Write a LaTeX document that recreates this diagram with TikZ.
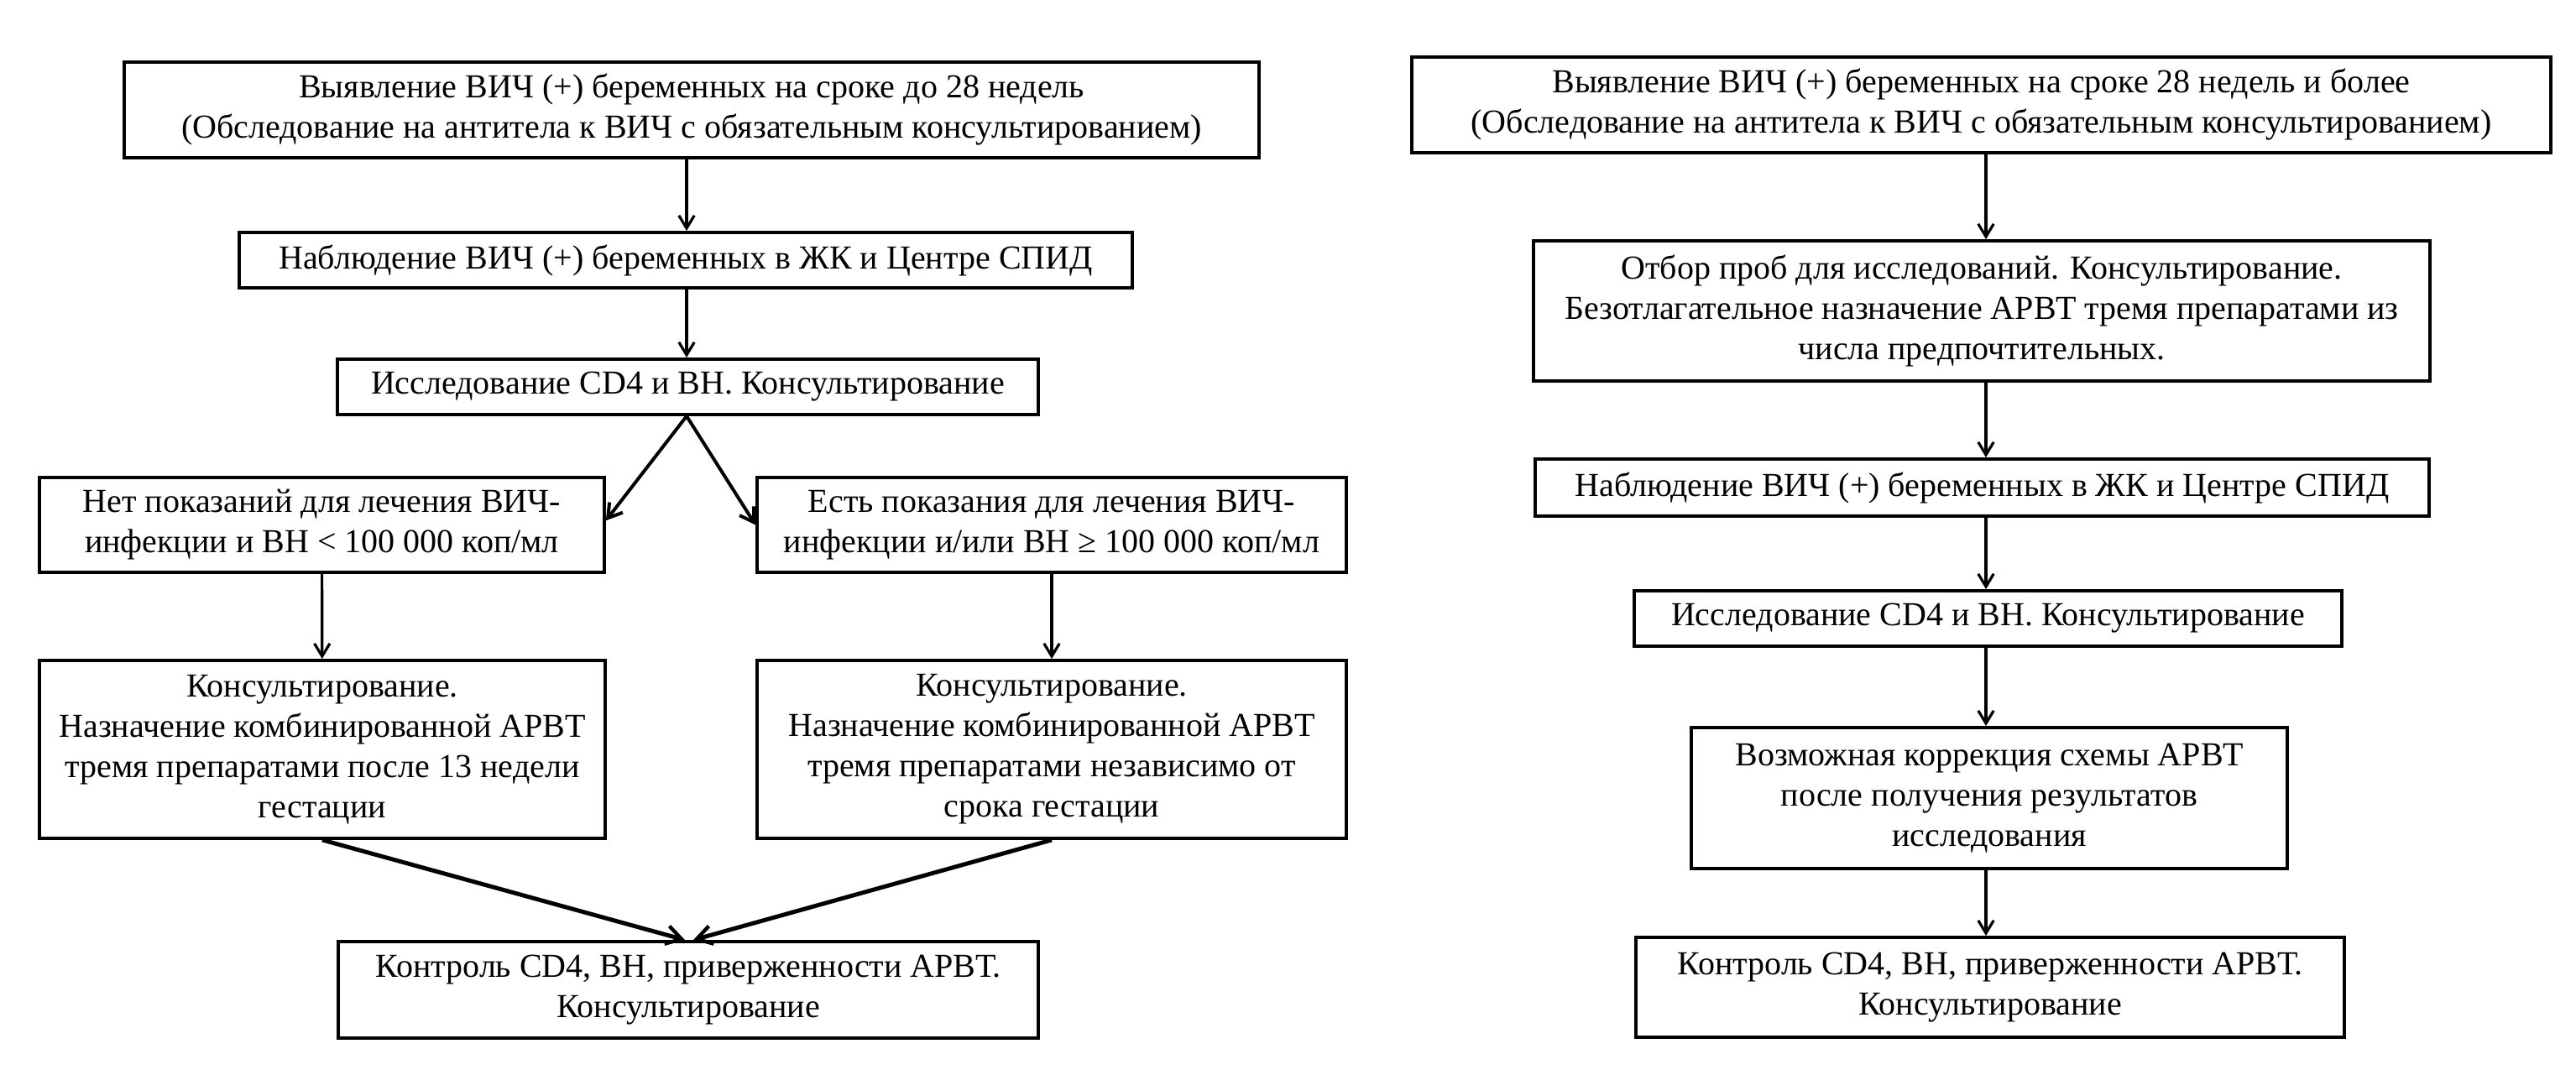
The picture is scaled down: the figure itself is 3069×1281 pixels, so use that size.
\documentclass[tikz,border=0pt]{standalone}
\usepackage{fontspec}
\setmainfont{Liberation Serif}
\usetikzlibrary{arrows.meta}
\begin{document}
\begin{tikzpicture}[x=0.25pt,y=-0.25pt,
  box/.style={draw, line width=0.95pt, align=center, inner sep=0pt,
    font=\fontsize{10}{12}\selectfont},
  arr/.style={line width=0.8pt, -{Straight Barb[length=3.8pt,width=4.6pt,line width=0.8pt]}},
  arrd/.style={line width=1pt, -{Straight Barb[length=4pt,width=5pt,line width=1pt]}},
  arrc/.style={line width=1.25pt, -{Straight Barb[length=4.5pt,width=5.5pt,line width=1.1pt]}}]
\fill[white] (0,0) rectangle (3069,1281);
\useasboundingbox (0,0) rectangle (3069,1281);
% axes for connectors
\coordinate (aL) at (818,0);
\coordinate (aR) at (2366,0);
% left column
\node[box, minimum width=338pt, minimum height=28.5pt] (L1) at (824,131)
  {Выявление ВИЧ (+) беременных на сроке до 28 недель\\(Обследование на антитела к ВИЧ с обязательным консультированием)};
\node[box, minimum width=266pt, minimum height=16.5pt] (L2) at (817,310)
  {Наблюдение ВИЧ (+) беременных в ЖК и Центре СПИД};
\node[box, minimum width=208.75pt, minimum height=16.5pt] (L3) at (819.5,461)
  {Исследование CD4 и ВН. Консультирование};
\node[box, minimum width=168.25pt, minimum height=28.25pt] (L4a) at (383.5,625.5)
  {Нет показаний для лечения ВИЧ-\\инфекции и ВН < 100 000 коп/мл};
\node[box, minimum width=175.5pt, minimum height=28.25pt] (L4b) at (1253,625.5)
  {Есть показания для лечения ВИЧ-\\инфекции и/или ВН ≥ 100 000 коп/мл};
\node[box, minimum width=168.5pt, minimum height=53pt] (L5a) at (384,893)
  {Консультирование.\\Назначение комбинированной АРВТ\\тремя препаратами после 13 недели\\гестации};
\node[box, minimum width=175.5pt, minimum height=53pt] (L5b) at (1253,893)
  {Консультирование.\\Назначение комбинированной АРВТ\\тремя препаратами независимо от\\срока гестации};
\node[box, minimum width=208.5pt, minimum height=28.75pt] (L6) at (820,1179.5)
  {Контроль CD4, ВН, приверженности АРВТ.\\Консультирование};
% right column
\node[box, minimum width=339.25pt, minimum height=28.5pt] (R1) at (2360.5,125)
  {Выявление ВИЧ (+) беременных на сроке 28 недель и более\\(Обследование на антитела к ВИЧ с обязательным консультированием)};
\node[box, minimum width=267pt, minimum height=41.75pt] (R2) at (2361,370.5)
  {Отбор проб для исследований. Консультирование.\\Безотлагательное назначение АРВТ тремя препаратами из\\числа предпочтительных.};
\node[box, minimum width=266.25pt, minimum height=17pt] (R3) at (2361.5,581)
  {Наблюдение ВИЧ (+) беременных в ЖК и Центре СПИД};
\node[box, minimum width=210.75pt, minimum height=16.5pt] (R4) at (2368.5,737)
  {Исследование CD4 и ВН. Консультирование};
\node[box, minimum width=177.5pt, minimum height=42pt] (R5) at (2370,951)
  {Возможная коррекция схемы АРВТ\\после получения результатов\\исследования};
\node[box, minimum width=211pt, minimum height=29.75pt] (R6) at (2371,1176.5)
  {Контроль CD4, ВН, приверженности АРВТ.\\Консультирование};
% left connectors
\draw[arr] (L1.south -| aL) -- (L2.north -| aL);
\draw[arr] (L2.south -| aL) -- (L3.north -| aL);
\draw[arrd] (L3.south -| aL) -- ([yshift=1.3pt]L4a.east);
\draw[arrd] (L3.south -| aL) -- (L4b.west);
\draw[arr] (L4a) -- (L5a);
\draw[arr] (L4b) -- (L5b);
\draw[arrc] (L5a.south) -- ([xshift=-1pt]L6.north);
\draw[arrc] (L5b.south) -- ([xshift=1.5pt]L6.north);
% right connectors
\draw[arr] (R1.south -| aR) -- (R2.north -| aR);
\draw[arr] (R2.south -| aR) -- (R3.north -| aR);
\draw[arr] (R3.south -| aR) -- (R4.north -| aR);
\draw[arr] (R4.south -| aR) -- (R5.north -| aR);
\draw[arr] (R5.south -| aR) -- (R6.north -| aR);
\end{tikzpicture}
\end{document}
